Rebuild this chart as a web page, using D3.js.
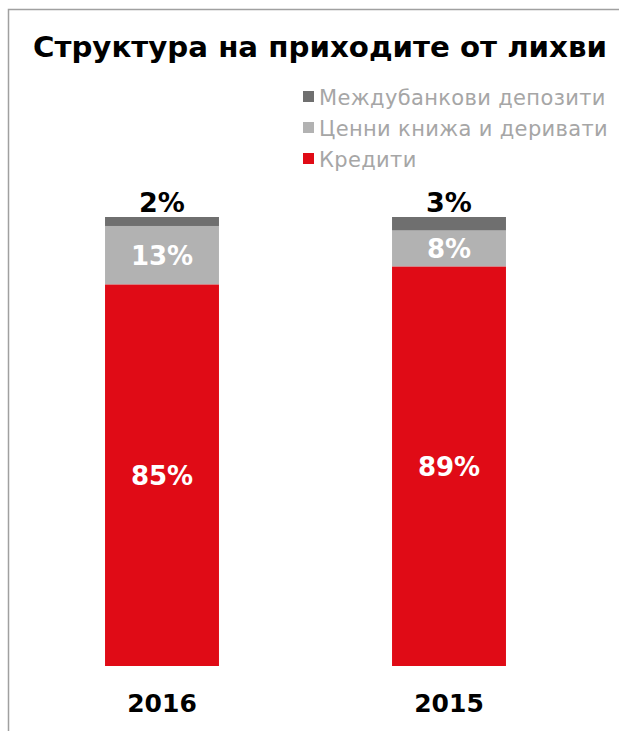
<!DOCTYPE html>
<html>
<head>
<meta charset="utf-8">
<script src="https://cdn.jsdelivr.net/npm/d3@7"></script>
<style>
  html, body { margin: 0; padding: 0; background: #fff; }
  svg { display: block; }
  text { font-family: "DejaVu Sans", Verdana, sans-serif; }
</style>
</head>
<body>
<svg id="chart" width="619" height="731"></svg>
<script>
// Interest income structure, shares in percent
const years = ["2016", "2015"];
const seriesNames = ["Кредити", "Ценни книжа и деривати", "Междубанкови депозити"];
const loans = [85, 89];
const securities = [13, 8];
const interbank = [2, 3];
const colors = ["#E00B16", "#B2B2B2", "#6F6F6F"];
const title = "Структура на приходите от лихви";

const svg = d3.select("#chart");

// frame
svg.append("rect")
  .attr("x", 8.5).attr("y", 9.5)
  .attr("width", 640).attr("height", 740)
  .attr("fill", "none").attr("stroke", "#A0A0A0").attr("stroke-width", 1.5);

// title
svg.append("text")
  .attr("x", 33).attr("y", 57)
  .attr("font-size", 28).attr("font-weight", "bold").attr("fill", "#000")
  .attr("textLength", 574).attr("lengthAdjust", "spacingAndGlyphs")
  .text(title);

const rows = years.map((y, i) => ({ year: y, values: [loans[i], securities[i], interbank[i]] }));
const stacked = d3.stack().keys([0, 1, 2]).value((d, k) => d.values[k])(rows);

const x = d3.scaleBand().domain(years).range([18.5, 592.5]).paddingInner(0.603).paddingOuter(0.3015);
const y = d3.scaleLinear().domain([0, 100]).range([666, 217]);

const layers = svg.append("g").selectAll("g")
  .data(stacked).join("g")
  .attr("fill", (d, i) => colors[i]);

layers.selectAll("rect")
  .data(d => d)
  .join("rect")
  .attr("x", d => x(d.data.year))
  .attr("width", x.bandwidth())
  .attr("y", d => y(d[1]))
  .attr("height", d => y(d[0]) - y(d[1]));

// value labels: inside for the lower segments, above the bar for the top one
stacked.forEach((layer, i) => {
  svg.append("g").selectAll("text")
    .data(layer).join("text")
    .attr("x", d => x(d.data.year) + x.bandwidth() / 2)
    .attr("y", d => i === 2 ? y(d[1]) - 5 : (y(d[0]) + y(d[1])) / 2)
    .attr("dy", i === 2 ? 0 : "0.36em")
    .attr("text-anchor", "middle")
    .attr("font-size", i === 2 ? 27 : 26).attr("font-weight", "bold")
    .attr("fill", i === 2 ? "#000" : "#fff")
    .text(d => d.data.values[i] + "%");
});

// category axis
const axis = svg.append("g")
  .attr("transform", "translate(0,666)")
  .call(d3.axisBottom(x).tickSize(0));
axis.select(".domain").remove();
axis.selectAll("text")
  .attr("y", 46).attr("dy", 0)
  .attr("font-family", "DejaVu Sans, Verdana, sans-serif")
  .attr("font-size", 25).attr("font-weight", "bold").attr("fill", "#000");

// legend, top entry is the top of the stack
const legendOrder = [2, 1, 0];
const legend = svg.append("g").selectAll("g")
  .data(legendOrder).join("g")
  .attr("transform", (d, i) => `translate(303,${105 + i * 31})`);
legend.append("rect")
  .attr("x", 0).attr("y", -14).attr("width", 11).attr("height", 11)
  .attr("fill", d => colors[d]);
legend.append("text")
  .attr("x", 16).attr("y", 0)
  .attr("font-size", 21).attr("fill", "#A6A6A6")
  .attr("letter-spacing", 0.35)
  .text(d => seriesNames[d]);
</script>
</body>
</html>
